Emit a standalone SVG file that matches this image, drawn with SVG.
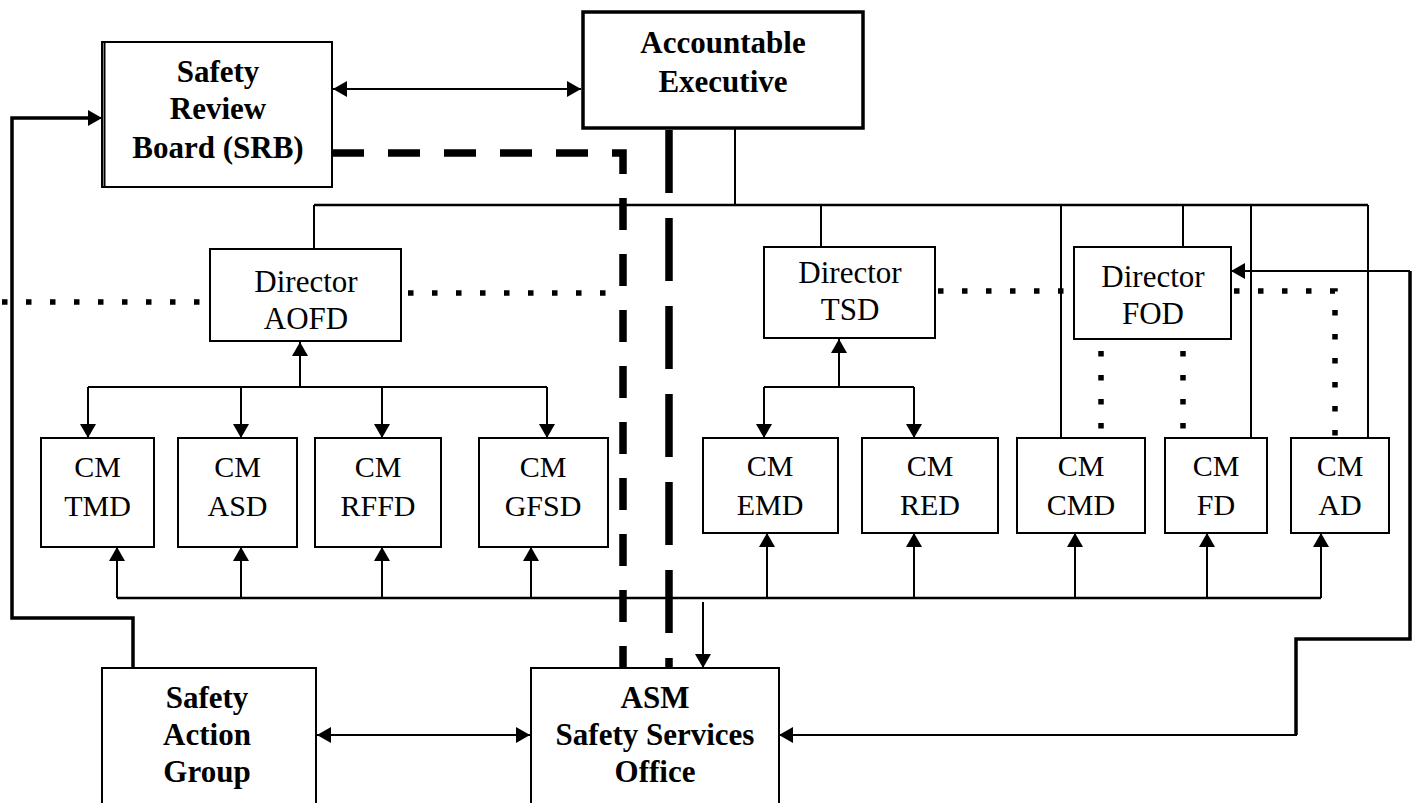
<svg xmlns="http://www.w3.org/2000/svg" width="1416" height="803" viewBox="0 0 1416 803">
  <defs>
    <marker id="arrow" viewBox="0 0 14 16" refX="14" refY="8" markerWidth="14" markerHeight="16" markerUnits="userSpaceOnUse" orient="auto-start-reverse">
      <path d="M0,0 L14,8 L0,16 z" fill="#000"/>
    </marker>
  </defs>
  <style>
    .box { fill: #fff; stroke: #000; stroke-width: 2; }
    .bold { font-family: "Liberation Serif", "Times New Roman", serif; font-weight: bold; font-size: 31px; text-anchor: middle; fill: #000; }
    .reg { font-family: "Liberation Serif", "Times New Roman", serif; font-size: 30px; text-anchor: middle; fill: #000; }
    .dir { font-size: 31px; }
    .line { fill: none; stroke: #000; stroke-width: 2; }
    .bus { fill: none; stroke: #000; stroke-width: 2.5; }
    .thick { fill: none; stroke: #000; stroke-width: 3.5; }
    .arr { fill: none; stroke: #000; stroke-width: 2; marker-end: url(#arrow); }
    .both { fill: none; stroke: #000; stroke-width: 2; marker-start: url(#arrow); marker-end: url(#arrow); }
    .dot { fill: none; stroke: #000; stroke-width: 5.5; stroke-dasharray: 5.5 18.5; }
    .dash { fill: none; stroke: #000; stroke-width: 7.5; stroke-dasharray: 32 24; }
    .dashlong { fill: none; stroke: #000; stroke-width: 7.5; stroke-dasharray: 63 25; }
  </style>

  <rect width="1416" height="803" fill="#fff"/>

  <!-- connectors -->
  <g id="connectors">
    <!-- reporting tree below the Accountable Executive -->
    <path class="line" d="M735 128 V205"/>
    <path class="bus" d="M314 205 H1368"/>
    <path class="line" d="M314 205 V249 M821 205 V247 M1183 205 V247"/>
    <path class="line" d="M1061 205 V437 M1251 205 V437 M1368 205 V437"/>

    <!-- safety lines (dashed) -->
    <path class="dash" d="M332 153 H623 V668"/>
    <path class="dashlong" d="M669 130 V673"/>

    <!-- coordination lines (dotted) -->
    <path class="dot" d="M2 302 H210"/>
    <path class="dot" d="M408 293 H618"/>
    <path class="dot" d="M938 291 H1064"/>
    <path class="dot" d="M1234 291 H1335 V440"/>
    <path class="dot" d="M1101 351 V430"/>
    <path class="dot" d="M1183 351 V446"/>

    <!-- SRB to Accountable Executive -->
    <path class="both" d="M333 89 H581"/>

    <!-- Safety Action Group to SRB -->
    <path class="thick" d="M133 668 V618 H12 V118 H90"/>
    <path class="arr" d="M90 118 H102"/>

    <!-- AOFD division -->
    <path class="arr" d="M300 387 V342"/>
    <path class="line" d="M88 387 H547"/>
    <path class="arr" d="M88 387 V438"/>
    <path class="arr" d="M241 387 V438"/>
    <path class="arr" d="M382 387 V438"/>
    <path class="arr" d="M547 387 V438"/>

    <!-- TSD division -->
    <path class="arr" d="M839 387 V339"/>
    <path class="line" d="M764 387 H914"/>
    <path class="arr" d="M764 387 V438"/>
    <path class="arr" d="M914 387 V438"/>

    <!-- feedback bus to all CMs -->
    <path class="bus" d="M117 598 H1321"/>
    <path class="arr" d="M117 598 V547"/>
    <path class="arr" d="M241 598 V547"/>
    <path class="arr" d="M382 598 V547"/>
    <path class="arr" d="M531 598 V547"/>
    <path class="arr" d="M767 598 V533"/>
    <path class="arr" d="M914 598 V533"/>
    <path class="arr" d="M1075 598 V533"/>
    <path class="arr" d="M1207 598 V533"/>
    <path class="arr" d="M1321 598 V533"/>
    <path class="arr" d="M703 602 V668"/>

    <!-- Safety Action Group to ASM -->
    <path class="both" d="M317 735 H530"/>

    <!-- ASM to Director FOD -->
    <path class="thick" d="M1296 735 V639 H1410 V271"/>
    <path class="line" d="M1410 271 H1245"/>
    <path class="arr" d="M1250 271 H1231"/>
    <path class="line" d="M1297 735 H790"/>
    <path class="arr" d="M795 735 H779"/>
  </g>

  <!-- top level -->
  <g id="srb">
    <rect class="box" x="102" y="42" width="230" height="145"/>
    <line class="line" x1="104.5" y1="42" x2="104.5" y2="187"/>
    <text class="bold" x="218" y="82">Safety</text>
    <text class="bold" x="218" y="119">Review</text>
    <text class="bold" x="218" y="158">Board (SRB)</text>
  </g>

  <g id="accountable-executive">
    <rect class="box" x="583" y="12" width="280" height="116" style="stroke-width:3.5"/>
    <text class="bold" x="723" y="53">Accountable</text>
    <text class="bold" x="723" y="92">Executive</text>
  </g>

  <!-- directors -->
  <g id="director-aofd">
    <rect class="box" x="210" y="249" width="191" height="92"/>
    <text class="reg dir" x="306" y="292">Director</text>
    <text class="reg dir" x="306" y="329">AOFD</text>
  </g>

  <g id="director-tsd">
    <rect class="box" x="764" y="247" width="171" height="91"/>
    <text class="reg dir" x="850" y="283">Director</text>
    <text class="reg dir" x="850" y="320">TSD</text>
  </g>

  <g id="director-fod">
    <rect class="box" x="1074" y="247" width="157" height="92"/>
    <text class="reg dir" x="1153" y="287">Director</text>
    <text class="reg dir" x="1153" y="324">FOD</text>
  </g>

  <!-- certificate managers -->
  <g id="cm-tmd">
    <rect class="box" x="41" y="438" width="113" height="109"/>
    <text class="reg" x="97.5" y="477">CM</text>
    <text class="reg" x="97.5" y="516">TMD</text>
  </g>
  <g id="cm-asd">
    <rect class="box" x="178" y="438" width="119" height="109"/>
    <text class="reg" x="237.5" y="477">CM</text>
    <text class="reg" x="237.5" y="516">ASD</text>
  </g>
  <g id="cm-rffd">
    <rect class="box" x="315" y="438" width="126" height="109"/>
    <text class="reg" x="378" y="477">CM</text>
    <text class="reg" x="378" y="516">RFFD</text>
  </g>
  <g id="cm-gfsd">
    <rect class="box" x="479" y="438" width="129" height="109"/>
    <text class="reg" x="543" y="477">CM</text>
    <text class="reg" x="543" y="516">GFSD</text>
  </g>
  <g id="cm-emd">
    <rect class="box" x="703" y="438" width="135" height="95"/>
    <text class="reg" x="770" y="476">CM</text>
    <text class="reg" x="770" y="515">EMD</text>
  </g>
  <g id="cm-red">
    <rect class="box" x="862" y="438" width="136" height="95"/>
    <text class="reg" x="930" y="476">CM</text>
    <text class="reg" x="930" y="515">RED</text>
  </g>
  <g id="cm-cmd">
    <rect class="box" x="1017" y="438" width="128" height="95"/>
    <text class="reg" x="1081" y="476">CM</text>
    <text class="reg" x="1081" y="515">CMD</text>
  </g>
  <g id="cm-fd">
    <rect class="box" x="1165" y="438" width="102" height="95"/>
    <text class="reg" x="1216" y="476">CM</text>
    <text class="reg" x="1216" y="515">FD</text>
  </g>
  <g id="cm-ad">
    <rect class="box" x="1291" y="438" width="98" height="95"/>
    <text class="reg" x="1340" y="476">CM</text>
    <text class="reg" x="1340" y="515">AD</text>
  </g>

  <!-- bottom row -->
  <g id="safety-action-group">
    <rect class="box" x="102" y="668" width="214" height="150"/>
    <text class="bold" x="207" y="708">Safety</text>
    <text class="bold" x="207" y="745">Action</text>
    <text class="bold" x="207" y="782">Group</text>
  </g>

  <g id="asm-safety-services-office">
    <rect class="box" x="531" y="668" width="248" height="150"/>
    <text class="bold" x="655" y="708">ASM</text>
    <text class="bold" x="655" y="745">Safety Services</text>
    <text class="bold" x="655" y="782">Office</text>
  </g>
</svg>
